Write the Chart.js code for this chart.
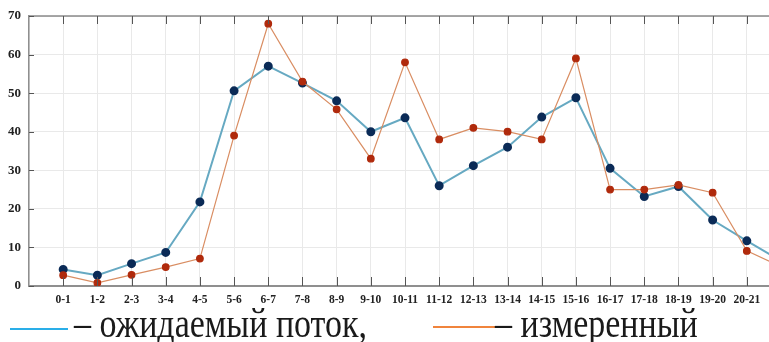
<!DOCTYPE html>
<html>
<head>
<meta charset="utf-8">
<script src="https://cdn.jsdelivr.net/npm/chart.js@4.4.1/dist/chart.umd.min.js"></script>
<style>
  html, body { margin: 0; padding: 0; background: #fff; overflow: hidden; width: 769px; height: 342px; }
  #wrap { position: absolute; left: 0; top: 0; width: 788px; height: 306px; }
  .key { position: absolute; height: 2px; }
  .txt { position: absolute; font-family: 'Liberation Serif', 'Times New Roman', serif; font-size: 34px; line-height: 34px;
         color: #1a1a1a; white-space: nowrap; transform: scaleY(1.25); transform-origin: left 28px; }
</style>
</head>
<body>
<div id="wrap"><canvas id="chart"></canvas></div>
<div class="key" style="left:10px; top:328px; width:58px; background:#2aaee8;"></div>
<div class="txt" style="left:74px; top:309px;">– ожидаемый поток,</div>
<div class="key" style="left:433px; top:326px; width:62px; background:#f0843c;"></div>
<div class="txt" style="left:495px; top:309px;">– измеренный</div>
<script>
// time intervals (the last one is cut off by the picture edge)
const intervals = ['0-1', '1-2', '2-3', '3-4', '4-5', '5-6', '6-7', '7-8', '8-9', '9-10', '10-11',
    '11-12', '12-13', '13-14', '14-15', '15-16', '16-17', '17-18', '18-19', '19-20', '20-21', '21-22'];

// ожидаемый поток
const expected = [4.3, 2.8, 5.8, 8.7, 21.8, 50.6, 57, 52.6, 48, 40, 43.6,
    26, 31.2, 36, 43.8, 48.8, 30.5, 23.2, 25.8, 17.1, 11.7, 6.5];

// измеренный
const measured = [2.8, 0.8, 2.9, 4.9, 7.1, 39, 68, 53, 45.8, 33, 58,
    38, 41, 40, 38, 59, 25, 25, 26.2, 24.2, 9.1, 5];

const yTicks = [0, 10, 20, 30, 40, 50, 60, 70];

function toPoints(arr) {
    return arr.map((v, i) => ({ x: i + 1, y: v }));
}

// MATLAB-like frame: inward tick marks and top border line
const frame = {
    id: 'frame',
    afterDatasetsDraw(chart) {
        const c = chart.ctx;
        const a = chart.chartArea;
        const xs = chart.scales.x;
        const ys = chart.scales.y;
        c.save();
        c.strokeStyle = '#8a8a8a';
        c.lineWidth = 1.5;
        c.beginPath();
        c.moveTo(a.left, a.top);
        c.lineTo(a.right, a.top);
        c.stroke();
        c.strokeStyle = '#555';
        c.lineWidth = 1;
        c.beginPath();
        for (let i = 1; i <= intervals.length; i++) {
            const px = Math.round(xs.getPixelForValue(i)) + 0.5;
            c.moveTo(px, a.bottom);
            c.lineTo(px, a.bottom - 9);
            c.moveTo(px, a.top);
            c.lineTo(px, a.top + 8);
        }
        yTicks.forEach(v => {
            const py = Math.round(ys.getPixelForValue(v)) + 0.5;
            c.moveTo(a.left, py);
            c.lineTo(a.left + 5, py);
        });
        c.stroke();
        c.restore();
    }
};

new Chart(document.getElementById('chart'), {
    type: 'line',
    data: {
        datasets: [{
            label: 'измеренный',
            data: toPoints(measured),
            borderColor: '#d98d62',
            borderWidth: 1.2,
            pointBackgroundColor: '#b02a0c',
            pointBorderColor: '#b02a0c',
            pointRadius: 3.3,
            tension: 0
        }, {
            label: 'ожидаемый поток',
            data: toPoints(expected),
            borderColor: '#66a9c2',
            borderWidth: 2,
            pointBackgroundColor: '#0b2b57',
            pointBorderColor: '#0b2b57',
            pointRadius: 3.5,
            tension: 0
        }]
    },
    options: {
        responsive: true,
        maintainAspectRatio: false,
        animation: false,
        layout: { padding: { top: 16, right: 0, left: 0, bottom: 0 } },
        plugins: {
            legend: { display: false },
            tooltip: { enabled: false }
        },
        scales: {
            x: {
                type: 'linear',
                min: 0,
                max: intervals.length,
                afterFit: s => { s.height = 20; },
                afterBuildTicks: s => { s.ticks = intervals.map((_, i) => ({ value: i })).concat([{ value: intervals.length }]); },
                ticks: {
                    autoSkip: false,
                    maxRotation: 0,
                    padding: 7,
                    color: '#222',
                    font: { family: 'Liberation Serif', size: 11.5, weight: 'bold' },
                    callback: v => (v >= 1 && v < intervals.length) ? intervals[v - 1] : ''
                },
                grid: { color: '#e9e9e9', drawTicks: false },
                border: { color: '#8f8f8f', width: 2 }
            },
            y: {
                min: 0,
                max: 70,
                afterFit: s => { s.width = 29; },
                ticks: {
                    stepSize: 10,
                    padding: 8,
                    color: '#222',
                    font: { family: 'Liberation Serif', size: 13, weight: 'bold' }
                },
                grid: { color: '#e9e9e9', drawTicks: false },
                border: { color: '#8f8f8f', width: 1.5 }
            }
        }
    },
    plugins: [frame]
});
</script>
</body>
</html>
